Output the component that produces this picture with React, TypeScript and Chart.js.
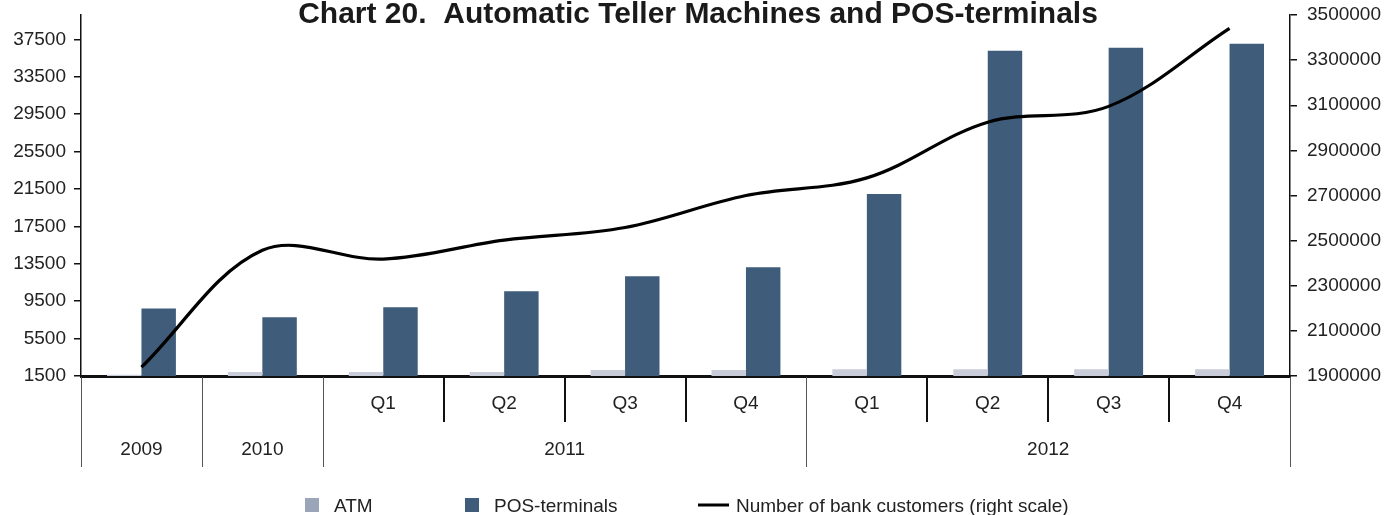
import React, { useEffect, useRef } from 'react';
import { Chart, registerables } from 'chart.js';

Chart.register(...registerables);

const FAMILY = '"Liberation Sans", Arial, Helvetica, sans-serif';
const TITLE = 'Chart 20.  Automatic Teller Machines and POS-terminals';

const CATEGORIES = ['2009', '2010', '2011 Q1', '2011 Q2', '2011 Q3', '2011 Q4', '2012 Q1', '2012 Q2', '2012 Q3', '2012 Q4'];
const QUARTER_LABELS = ['', '', 'Q1', 'Q2', 'Q3', 'Q4', 'Q1', 'Q2', 'Q3', 'Q4'];
const YEAR_LABELS = ['2009', '2010', '2011', '2012'];
const YEAR_FIRST = [0, 1, 2, 6];
const YEAR_LAST = [0, 1, 5, 9];

const ATM = [1640, 1930, 1930, 1930, 2140, 2140, 2220, 2220, 2220, 2220];
const POS = [8730, 7770, 8840, 10550, 12160, 13120, 20950, 36270, 36590, 37020];
const CUSTOMERS = [1939000, 2457000, 2418000, 2502000, 2558000, 2700000, 2778000, 3025000, 3095000, 3441000];

const LEFT_TICKS = [1500, 5500, 9500, 13500, 17500, 21500, 25500, 29500, 33500, 37500];
const RIGHT_TICKS = [1900000, 2100000, 2300000, 2500000, 2700000, 2900000, 3100000, 3300000, 3500000];

const LEGEND_LABELS = ['ATM', 'POS-terminals', 'Number of bank customers (right scale)'];

const C_ATM = '#c8cdd9';
const C_ATM_LEGEND = '#9aa5b8';
const C_POS = '#3f5d7a';
const C_LINE = '#000000';

const overlay = {
  id: 'overlay',
  afterDraw(chart: any) {
    const { ctx, chartArea, scales } = chart;
    const x = scales.x;
    const n = CATEGORIES.length;
    const bottom = chartArea.bottom;
    const px = (i: number) => x.getPixelForValue(i);
    const edge = (i: number) => (i <= 0 ? x.left : i >= n ? x.right : (px(i - 1) + px(i)) / 2);

    ctx.save();
    // title
    ctx.font = `bold 30px ${FAMILY}`;
    ctx.fillStyle = '#1a1a1a';
    ctx.textAlign = 'center';
    ctx.textBaseline = 'alphabetic';
    ctx.fillText(TITLE, 698, 23);

    // category structure
    ctx.font = `19px ${FAMILY}`;
    ctx.fillStyle = '#222';
    for (let g = 0; g < YEAR_LABELS.length; g++) {
      const s = YEAR_FIRST[g];
      const e = YEAR_LAST[g];
      const l = edge(s);
      const r = edge(e + 1);
      ctx.strokeStyle = '#555';
      ctx.lineWidth = 1;
      for (const xx of [l, r]) {
        ctx.beginPath();
        ctx.moveTo(Math.round(xx) + 0.5, bottom + 1);
        ctx.lineTo(Math.round(xx) + 0.5, 467);
        ctx.stroke();
      }
      ctx.strokeStyle = '#111';
      ctx.lineWidth = 2;
      for (let k = s + 1; k <= e; k++) {
        const xx = Math.round(edge(k));
        ctx.beginPath();
        ctx.moveTo(xx, bottom + 1);
        ctx.lineTo(xx, 422);
        ctx.stroke();
      }
      ctx.fillText(YEAR_LABELS[g], (l + r) / 2, 455);
    }
    for (let i = 0; i < n; i++) {
      if (QUARTER_LABELS[i]) ctx.fillText(QUARTER_LABELS[i], px(i), 409);
    }

    // legend
    const datasets = chart.data.datasets;
    const legendX = [305, 465, 698];
    ctx.textAlign = 'left';
    ctx.font = `19px ${FAMILY}`;
    LEGEND_LABELS.forEach((label, i) => {
      const ds = datasets.find((d: any) => d.label === label);
      const lx = legendX[i];
      let tx;
      if (ds && ds.type === 'line') {
        ctx.strokeStyle = ds.borderColor;
        ctx.lineWidth = 3;
        ctx.beginPath();
        ctx.moveTo(lx, 505);
        ctx.lineTo(lx + 31, 505);
        ctx.stroke();
        tx = lx + 38;
      } else {
        ctx.fillStyle = label === 'ATM' ? C_ATM_LEGEND : ds.backgroundColor;
        ctx.fillRect(lx, 498, 14, 14);
        tx = lx + 29;
      }
      ctx.fillStyle = '#222';
      ctx.fillText(label, tx, 512);
    });
    ctx.restore();
  },
};

export default function App() {
  const ref = useRef<HTMLCanvasElement>(null);
  useEffect(() => {
    const canvas = ref.current;
    if (!canvas) return;
    const tickFont = { size: 19, family: FAMILY };
    const chart = new Chart(canvas, {
      type: 'bar',
      data: {
        labels: CATEGORIES,
        datasets: [
          {
            type: 'line',
            label: LEGEND_LABELS[2],
            data: CUSTOMERS,
            yAxisID: 'y1',
            borderColor: C_LINE,
            borderWidth: 3.2,
            pointRadius: 0,
            tension: 0.35,
            fill: false,
            order: 0,
          } as any,
          {
            type: 'bar',
            label: LEGEND_LABELS[0],
            data: ATM,
            yAxisID: 'y',
            backgroundColor: C_ATM,
            barPercentage: 1,
            categoryPercentage: 0.57,
            order: 1,
          },
          {
            type: 'bar',
            label: LEGEND_LABELS[1],
            data: POS,
            yAxisID: 'y',
            backgroundColor: C_POS,
            barPercentage: 1,
            categoryPercentage: 0.57,
            order: 2,
          },
        ],
      },
      options: {
        animation: false,
        responsive: true,
        maintainAspectRatio: false,
        layout: { padding: { top: 15, left: 0, right: 0, bottom: 0 } },
        plugins: {
          legend: { display: false },
          title: { display: false },
          tooltip: { enabled: false },
        },
        scales: {
          x: {
            type: 'category',
            offset: true,
            grid: { display: false, drawTicks: false },
            ticks: { display: false },
            border: { display: true, color: '#111', width: 3 },
            afterFit: (s: any) => {
              s.height = 139;
              s.paddingLeft = 0;
              s.paddingRight = 0;
            },
          },
          y: {
            type: 'linear',
            position: 'left',
            min: 1500,
            max: 40100,
            afterBuildTicks: (s: any) => {
              s.ticks = LEFT_TICKS.map((v) => ({ value: v }));
            },
            afterFit: (s: any) => {
              s.width = 81;
              s.paddingTop = 0;
              s.paddingBottom = 0;
            },
            grid: { drawOnChartArea: false, drawTicks: true, tickLength: 7, color: '#111', lineWidth: 1.5 },
            border: { display: true, color: '#111', width: 1.5 },
            ticks: { color: '#222', font: tickFont, padding: 8, autoSkip: false, callback: (v: any) => String(v) },
          },
          y1: {
            type: 'linear',
            position: 'right',
            min: 1900000,
            max: 3500000,
            afterBuildTicks: (s: any) => {
              s.ticks = RIGHT_TICKS.map((v) => ({ value: v }));
            },
            afterFit: (s: any) => {
              s.width = 97;
              s.paddingTop = 0;
              s.paddingBottom = 0;
            },
            grid: { drawOnChartArea: false, drawTicks: true, tickLength: 7, color: '#111', lineWidth: 1.5 },
            border: { display: true, color: '#111', width: 1.5 },
            ticks: { color: '#222', font: tickFont, padding: 10, autoSkip: false, callback: (v: any) => String(v) },
          },
        },
      } as any,
      plugins: [overlay],
    });
    return () => chart.destroy();
  }, []);

  return (
    <div style={{ position: 'fixed', left: 0, top: 0, width: 1387, height: 515, background: '#fff' }}>
      <canvas ref={ref} />
    </div>
  );
}
